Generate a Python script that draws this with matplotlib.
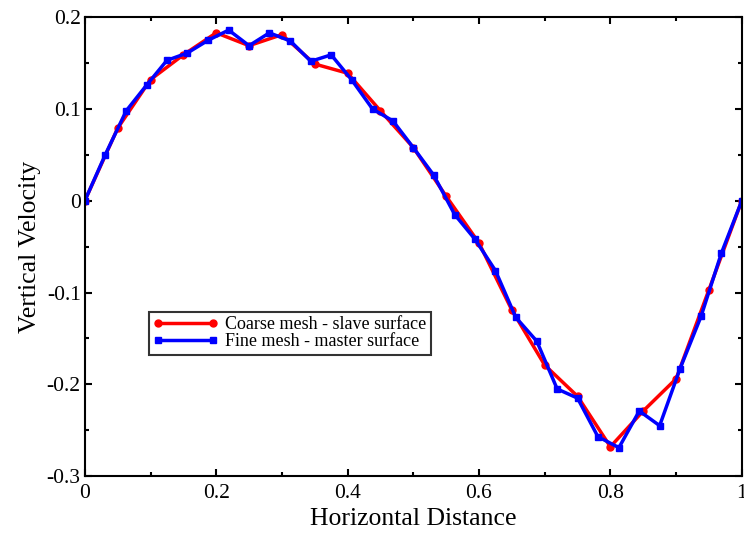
import numpy as np
import matplotlib.pyplot as plt
from matplotlib.ticker import MultipleLocator

plt.rcParams['font.family'] = ['Liberation Serif', 'DejaVu Serif']

# coarse mesh (slave surface)
x_coarse = [0, 0.05, 0.1, 0.15, 0.2, 0.25, 0.3, 0.35, 0.4, 0.45, 0.5,
            0.55, 0.6, 0.65, 0.7, 0.75, 0.8, 0.85, 0.9, 0.95, 1.0]
v_coarse = [0, 0.079, 0.132, 0.159, 0.183, 0.169, 0.181, 0.149, 0.139, 0.098, 0.058,
            0.005, -0.046, -0.119, -0.179, -0.213, -0.268, -0.229, -0.194, -0.097, 0]

# fine mesh (master surface)
x_fine = [0, 0.031, 0.063, 0.094, 0.125, 0.156, 0.188, 0.219, 0.25, 0.281, 0.313,
          0.344, 0.375, 0.406, 0.438, 0.469, 0.5, 0.531, 0.563, 0.594, 0.625,
          0.656, 0.688, 0.719, 0.75, 0.781, 0.813, 0.844, 0.875, 0.906, 0.938,
          0.969, 1.0]
v_fine = [0, 0.050, 0.098, 0.126, 0.153, 0.161, 0.175, 0.186, 0.169, 0.183, 0.174,
          0.152, 0.159, 0.132, 0.100, 0.087, 0.058, 0.028, -0.015, -0.042, -0.076,
          -0.127, -0.153, -0.205, -0.215, -0.257, -0.269, -0.229, -0.245, -0.183, -0.126,
          -0.057, 0]

fig = plt.figure(figsize=(7.44, 5.38), dpi=100)
ax = fig.add_axes([0.114, 0.115, 0.883, 0.853])

ax.plot(x_coarse, v_coarse, '-o', color='#ff0000', lw=2.5, ms=5,
        label='Coarse mesh - slave surface')
ax.plot(x_fine, v_fine, '-s', color='#0000ff', lw=2.5, ms=4.5,
        label='Fine mesh - master surface')

ax.set_xlim(0, 1)
ax.set_ylim(-0.3, 0.2)
ax.xaxis.set_major_locator(MultipleLocator(0.2))
ax.xaxis.set_minor_locator(MultipleLocator(0.1))
ax.yaxis.set_major_locator(MultipleLocator(0.1))
ax.yaxis.set_minor_locator(MultipleLocator(0.05))
fmt = plt.FuncFormatter(lambda v, p: '%g' % round(v, 2))
ax.xaxis.set_major_formatter(fmt)
ax.yaxis.set_major_formatter(fmt)
ax.tick_params(which='both', direction='in', top=True, right=True, width=1.5,
               labelsize=15.5)
ax.tick_params(axis='x', pad=6)
ax.tick_params(axis='y', pad=3)
ax.tick_params(which='major', length=5)
ax.tick_params(which='minor', length=3)
for s in ax.spines.values():
    s.set_linewidth(1.5)

ax.set_xlabel('Horizontal Distance', fontsize=18.5, labelpad=3)
ax.set_ylabel('Vertical Velocity', fontsize=18.5, labelpad=4)

leg = ax.legend(loc='upper left', bbox_to_anchor=(0.097, 0.358), fontsize=13,
                frameon=True, fancybox=False, edgecolor='black', numpoints=2,
                handlelength=3.6, borderpad=0.25, labelspacing=0.0,
                handletextpad=0.4, borderaxespad=0)
leg.get_frame().set_linewidth(1.5)

plt.savefig('out.png', dpi=100)
